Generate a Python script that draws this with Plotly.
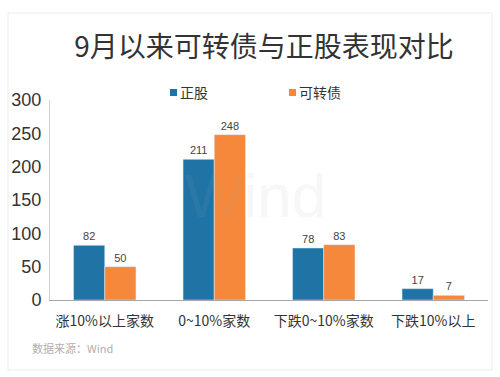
import plotly.graph_objects as go

categories = ["涨10%以上家数", "0~10%家数", "下跌0~10%家数", "下跌10%以上"]
stock_values = [82, 211, 78, 17]
cb_values = [50, 248, 83, 7]
series_names = ["正股", "可转债"]
y_ticks = [0, 50, 100, 150, 200, 250, 300]

FONT = "Liberation Sans, Arial, Noto Sans CJK SC, sans-serif"
CJK = "Noto Sans CJK SC, sans-serif"
BLUE = "#1f73a5"
ORANGE = "#f5883a"
colors = [BLUE, ORANGE]

PL, PT, PW, PH = 50, 100, 438, 200  # plot area in px


def px_x(px):
    return (px - PL) / PW


def px_y(py):
    return (PT + PH - py) / PH


fig = go.Figure()
for name, vals, col in zip(series_names, [stock_values, cb_values], colors):
    fig.add_trace(go.Bar(
        x=categories, y=vals, name=name, marker_color=col,
        text=vals, textposition="outside", cliponaxis=False,
        textfont=dict(size=11, color="#444", family=FONT),
    ))

fig.update_layout(
    width=500, height=377,
    margin=dict(l=PL, r=500 - PL - PW, t=PT, b=377 - PT - PH),
    paper_bgcolor="white", plot_bgcolor="white",
    font=dict(family=FONT, color="#333"),
    barmode="group", bargap=0.43, bargroupgap=0,
    title=dict(text="9月以来可转债与正股表现对比", x=264 / 500, xanchor="center",
               y=1 - 47 / 377, yanchor="middle", yref="container",
               font=dict(size=28, color="#333", family=CJK)),
    showlegend=False,
)
fig.update_xaxes(showline=True, linecolor="#a6a6a6", linewidth=1, showgrid=False,
                 ticks="", ticklabelstandoff=8,
                 tickfont=dict(size=14, color="#333", family=CJK))
fig.update_yaxes(range=[0, 300], tickvals=y_ticks, showline=True, linecolor="#d0d0d0",
                 linewidth=1, showgrid=False, zeroline=False, ticks="",
                 ticklabelstandoff=4,
                 tickfont=dict(size=18, color="#333", family=FONT))

# custom legend (square + text)
legend_pos = [(170, 178), (289, 297)]
for (sq_x, tx_x), name, col in zip(legend_pos, series_names, colors):
    fig.add_shape(type="rect", xref="paper", yref="paper",
                  x0=px_x(sq_x), x1=px_x(sq_x + 7), y0=px_y(96), y1=px_y(89),
                  line=dict(width=0), fillcolor=col)
    fig.add_annotation(text=name, xref="paper", yref="paper", x=px_x(tx_x), y=px_y(92),
                       xanchor="left", yanchor="middle", showarrow=False,
                       font=dict(size=14, color="#333", family=CJK))

# faint watermark
fig.add_annotation(text="Wind", xref="paper", yref="paper", x=px_x(255), y=px_y(195),
                   showarrow=False, font=dict(size=62, color="rgba(170,170,170,0.09)",
                                              family=FONT))
# source note
fig.add_annotation(text="数据来源：Wind", xref="paper", yref="paper",
                   x=px_x(30), y=px_y(348), xanchor="left", yanchor="middle",
                   showarrow=False, font=dict(size=11, color="#b0b0b0", family=CJK))
# frame
fig.add_shape(type="rect", xref="paper", yref="paper",
              x0=px_x(8), x1=px_x(492), y0=px_y(370), y1=px_y(13),
              line=dict(color="#ececec", width=1), layer="below")

fig.write_html("out.html", config={"displayModeBar": False},
               post_script="document.body.style.margin='0';")
